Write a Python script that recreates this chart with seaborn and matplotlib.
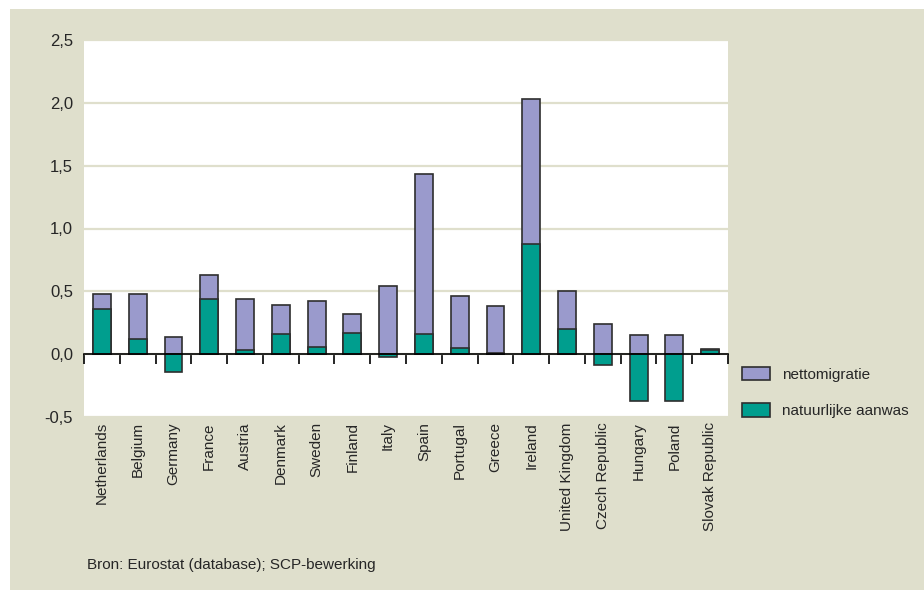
import numpy as np
import pandas as pd
import matplotlib
matplotlib.use('Agg')
import matplotlib.pyplot as plt
import seaborn as sns
from matplotlib.patches import Rectangle, Patch
from matplotlib.ticker import FuncFormatter, FixedLocator

# data: population growth components (% per year)
countries = ['Netherlands', 'Belgium', 'Germany', 'France', 'Austria', 'Denmark',
             'Sweden', 'Finland', 'Italy', 'Spain', 'Portugal', 'Greece', 'Ireland',
             'United Kingdom', 'Czech Republic', 'Hungary', 'Poland', 'Slovak Republic']
natuurlijke_aanwas = [0.36, 0.12, -0.14, 0.44, 0.03, 0.16, 0.06, 0.17, -0.02, 0.16,
                      0.05, 0.01, 0.88, 0.20, -0.09, -0.37, -0.37, 0.03]
nettomigratie = [0.12, 0.36, 0.14, 0.19, 0.41, 0.23, 0.36, 0.15, 0.54, 1.27,
                 0.41, 0.37, 1.15, 0.30, 0.24, 0.15, 0.15, 0.01]
source_text = 'Bron: Eurostat (database); SCP-bewerking'

BG = '#dfdfcc'
LAVENDER = '#9a9acc'
TEAL = '#009e8e'
EDGE = '#2e2e2e'
TXT = '#262626'

sns.set_theme(style='white')
plt.rcParams['font.family'] = ['Liberation Sans', 'DejaVu Sans']

df = pd.DataFrame({'land': countries,
                   'aanwas': natuurlijke_aanwas,
                   'migratie': nettomigratie})
# migration is stacked on top of positive natural growth, starts at 0 otherwise
df['top'] = df['aanwas'].clip(lower=0) + df['migratie']

W, H = 924, 592
fig = plt.figure(figsize=(W / 100, H / 100), dpi=100)
fig.patch.set_facecolor('white')
fig.patches.append(Rectangle((10 / W, 2 / H), 1 - 10 / W, (583 - 2) / H,
                             transform=fig.transFigure, facecolor=BG,
                             edgecolor='none', zorder=-10))

ax = fig.add_axes([84 / W, (H - 417) / H, 644 / W, 377 / H])
ax.set_facecolor('white')

sns.barplot(data=df, x='land', y='top', color=LAVENDER, saturation=1,
            edgecolor=EDGE, linewidth=1.2, width=0.5, ax=ax, zorder=2)
sns.barplot(data=df, x='land', y='aanwas', color=TEAL, saturation=1,
            edgecolor=EDGE, linewidth=1.2, width=0.5, ax=ax, zorder=3)

n = len(countries)
ax.set_xlim(-0.5, n - 0.5)
ax.set_ylim(-0.5, 2.5)
ax.set_yticks(np.arange(-0.5, 2.51, 0.5))
ax.yaxis.set_major_formatter(FuncFormatter(lambda v, p: f'{v:.1f}'.replace('.', ',')))
ax.yaxis.grid(True, color=BG, linewidth=1.6)
ax.set_axisbelow(True)
ax.set_xlabel('')
ax.set_ylabel('')

for s in ['left', 'right', 'top']:
    ax.spines[s].set_visible(False)
ax.spines['bottom'].set_position(('data', 0))
ax.spines['bottom'].set_color('black')
ax.spines['bottom'].set_linewidth(1.2)
ax.spines['bottom'].set_zorder(4)

ax.xaxis.set_minor_locator(FixedLocator(np.arange(-0.5, n, 1.0)))
ax.tick_params(axis='x', which='minor', bottom=True, length=7, width=1.2,
               color='black', direction='out')
ax.tick_params(axis='x', which='major', length=0, pad=49, labelsize=11,
               labelcolor=TXT)
ax.tick_params(axis='y', length=0, pad=8, labelsize=12, labelcolor=TXT)
plt.setp(ax.get_xticklabels(), rotation=90, ha='center', va='top')

handles = [Patch(facecolor=LAVENDER, edgecolor=EDGE, linewidth=1.2, label='nettomigratie'),
           Patch(facecolor=TEAL, edgecolor=EDGE, linewidth=1.2, label='natuurlijke aanwas')]
leg = fig.legend(handles=handles, loc='upper left',
                 bbox_to_anchor=(742 / W, (H - 367) / H), frameon=False,
                 borderpad=0, borderaxespad=0,
                 handlelength=1.83, handleheight=0.96, handletextpad=0.78,
                 labelspacing=1.4,
                 prop={'family': 'Liberation Sans', 'size': 11})
for t in leg.get_texts():
    t.set_color(TXT)

fig.text(87 / W, (H - 565) / H, source_text, ha='left', va='center',
         fontsize=11, color=TXT, family='Liberation Sans')

fig.savefig('out.png', dpi=100, facecolor=fig.get_facecolor())
